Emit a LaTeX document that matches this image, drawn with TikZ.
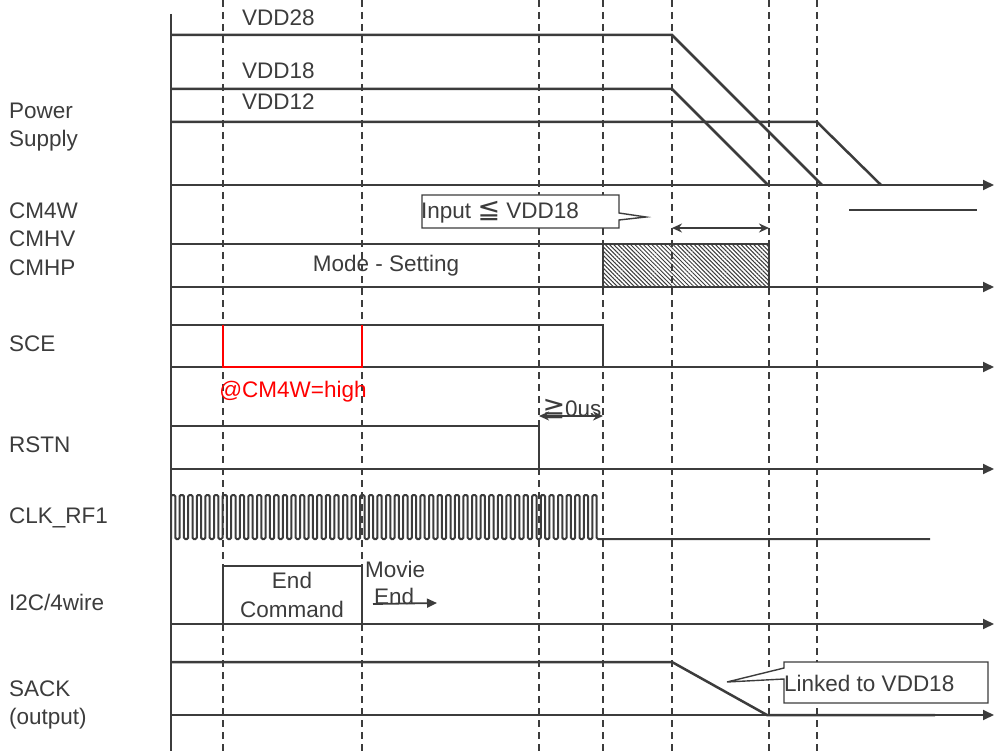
\documentclass[tikz,border=0pt]{standalone}
\usepackage{fontspec}
\setmainfont{Liberation Sans}
\newfontfamily\symf[Scale=1.2]{DejaVu Sans}
\usetikzlibrary{arrows.meta,patterns.meta}
\definecolor{ink}{RGB}{60,60,60}
\begin{document}
\begin{tikzpicture}[x=1pt,y=-1pt,
  lbl/.style={font=\fontsize{22.5}{28.5}\selectfont, text=ink, inner sep=0pt, align=left},
  sig/.style={draw=ink, line width=2.5pt},
  axisl/.style={draw=ink, line width=1.8pt, -{Triangle[length=11pt,width=10pt]}},
  guide/.style={draw=ink, line width=1.5pt, dash pattern=on 7pt off 5pt},
  dim/.style={draw=ink, line width=1.8pt, {Stealth[length=10pt,width=9pt]}-{Stealth[length=10pt,width=9pt]}},
  call/.style={draw=ink, line width=1.4pt, fill=white}
]
\useasboundingbox (0,0) rectangle (995,751);

% guides
\foreach \x in {223,362,539,603,672,769,817} \draw[guide] (\x,0) -- (\x,751);

% vertical axis
\draw[ink, line width=2.5pt] (171,14) -- (171,751);

% left labels
\node[lbl, anchor=west] (lps) at (9,127) {Power\\Supply};
\node[lbl, anchor=west] (lcm) at (9,239) {CM4W\\CMHV\\CMHP};
\node[lbl, anchor=west] (lsce) at (9,344) {SCE};
\node[lbl, anchor=west] (lrst) at (9,445) {RSTN};
\node[lbl, anchor=west] (lclk) at (9,518) {CLK\_RF1};
\node[lbl, anchor=west] (li2c) at (9,602) {I2C/4wire};
\node[lbl, anchor=west] (lsack) at (9,705) {SACK\\(output)};

% Power supply
\draw[axisl] (171,185) -- (994,185);
\draw[sig] (171,35) -- (672,35) -- (822,185);
\draw[sig] (171,89) -- (672,89) -- (768,185);
\draw[sig] (171,122) -- (817,122) -- (881,185);
\draw[sig] (768,185) -- (930,185);
\node[lbl, anchor=west] (v28) at (242,18) {VDD28};
\node[lbl, anchor=west] (v18) at (242,71) {VDD18};
\node[lbl, anchor=west] (v12) at (242,102) {VDD12};

% CM4W / CMHV / CMHP
\path[pattern={Lines[angle=-45,distance=3pt,line width=1pt]}, pattern color=ink] (603,244) rectangle (769,287);
\draw[axisl] (171,287) -- (994,287);
\draw[sig] (171,244) -- (769,244) -- (769,287);
\draw[sig] (603,244) -- (603,287);
\draw[sig] (603,287) -- (769,287);
\node[lbl] (mode) at (386,266) {Mode - Setting};
\draw[sig] (849,210) -- (977,210);
\draw[call] (422,195) -- (619,195) -- (619,213) -- (646,217) -- (619,220) -- (619,228) -- (422,228) -- cycle;
\node[lbl, anchor=west] (inp) at (421,212) {Input {\symf ≦} VDD18};
\coordinate (da) at (672,228);
\coordinate (db) at (769,228);
\draw[dim] (da) -- (db);

% SCE
\draw[axisl] (171,367) -- (994,367);
\draw[sig] (171,325) -- (603,325) -- (603,367) -- (930,367);
\draw[red, line width=2.5pt] (223,325) -- (223,367) -- (362,367) -- (362,325);
\node[lbl, text=red] (cmh) at (293,392) {@CM4W=high};

% RSTN
\draw[axisl] (171,469) -- (994,469);
\draw[sig] (171,426) -- (539,426) -- (539,469) -- (930,469);
\coordinate (ra) at (539,416);
\coordinate (rb) at (603,416);
\draw[dim] (ra) -- (rb);
\node[lbl] (zus) at (572,409) {{\symf ≧}0us};

% CLK_RF1
\draw[ink, line width=2pt, rounded corners=1.3pt] (171,539)
  \foreach \i in {0,...,49} { -- ({171+\i*8.6},495) -- ({171+\i*8.6+4.3},495) -- ({171+\i*8.6+4.3},539) -- ({171+(\i+1)*8.6},539) } -- (930,539);

% I2C/4wire
\draw[axisl] (171,624) -- (994,624);
\draw[sig] (223,624) -- (223,566) -- (362,566) -- (362,624);
\node[lbl, align=center] (endc) at (292,595) {End\\Command};
\node[lbl, anchor=west] (mov) at (365,569) {Movie};
\node[lbl, anchor=west] (mend) at (374,596) {End};
\coordinate (ma) at (373,604);
\coordinate (mb) at (437,603);
\draw[ink, line width=1.8pt, -{Triangle[length=10pt,width=9pt]}] (ma) -- (mb);

% SACK
\draw[axisl] (171,715) -- (994,715);
\draw[sig] (171,662) -- (672,662) -- (767,715) -- (935,715);
\draw[call] (784,662) -- (988,662) -- (988,703) -- (784,703) -- (784,679) -- (727,682) -- (784,668) -- cycle;
\node[lbl, anchor=west] (lnk) at (784,683) {Linked to VDD18};
\end{tikzpicture}
\end{document}
